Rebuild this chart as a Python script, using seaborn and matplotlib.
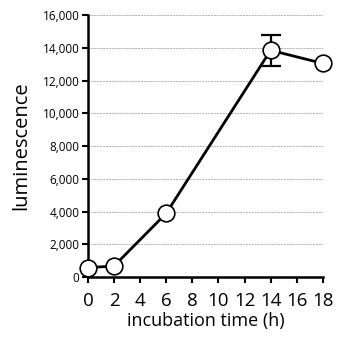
import numpy as np
import pandas as pd
import matplotlib
matplotlib.use("Agg")
import matplotlib.pyplot as plt
import seaborn as sns

# data
time_h = [0, 2, 6, 14, 18]
lum = [580, 680, 3900, 13850, 13050]
lum_err = [0, 0, 0, 930, 0]
x_ticks = [0, 2, 4, 6, 8, 10, 12, 14, 16, 18]
y_ticks = [0, 2000, 4000, 6000, 8000, 10000, 12000, 14000, 16000]

sns.set_style("ticks")
plt.rcParams['font.family'] = ['Open Sans', 'DejaVu Sans']
plt.rcParams['text.color'] = 'black'
plt.rcParams['axes.labelcolor'] = 'black'

df = pd.DataFrame({"time": time_h, "lum": lum, "err": lum_err})

fig = plt.figure(figsize=(3.37, 3.43), dpi=100)
ax = fig.add_axes([0.261, 0.192, 0.697, 0.764])

for y in y_ticks[1:]:
    ax.axhline(y, color="#b0b0b0", lw=0.7, ls=(0, (2, 1)), zorder=0)

# error bar
e = df[df.err > 0]
ax.errorbar(e.time, e.lum, yerr=e.err, fmt="none", ecolor="black",
            elinewidth=1.6, capsize=7, capthick=1.6, zorder=2)

sns.lineplot(data=df, x="time", y="lum", ax=ax, color="black", lw=2,
             marker="o", markersize=12, markerfacecolor="white",
             markeredgecolor="black", markeredgewidth=1.2, clip_on=False,
             zorder=3)

ax.set_xlim(0, 18)
ax.set_ylim(0, 16000)
ax.set_xticks(x_ticks)
ax.set_yticks(y_ticks)
ax.set_yticklabels([f"{v:,}" for v in y_ticks], fontsize=8.5)
ax.set_xticklabels([str(v) for v in x_ticks], fontsize=13.5)
ax.set_xlabel("incubation time (h)", fontsize=13, labelpad=1)
ax.set_ylabel("luminescence", fontsize=14.5, labelpad=8)
ax.tick_params(direction="out", length=4, width=1.5, colors="black",
               labelcolor="black")
ax.tick_params(axis="x", pad=7)
ax.tick_params(axis="y", pad=2)
for s in ["top", "right"]:
    ax.spines[s].set_visible(False)
for s in ["left", "bottom"]:
    ax.spines[s].set_linewidth(1.8)
    ax.spines[s].set_color("black")

fig.savefig("out.png", dpi=100)
